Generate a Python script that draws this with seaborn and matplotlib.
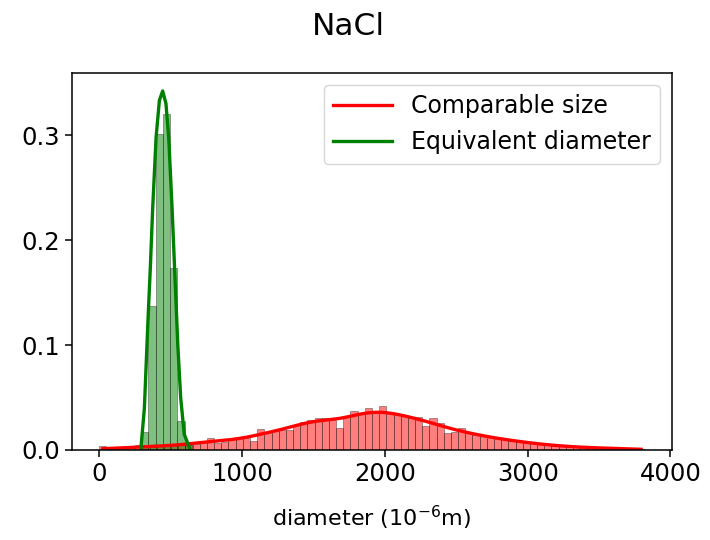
import numpy as np
import pandas as pd
import matplotlib
matplotlib.use("Agg")
import matplotlib.pyplot as plt
import seaborn as sns

# histogram bin heights (probability per bin)
comparable_lo, comparable_hi = 0, 3820
comparable_heights = [
    0.004, 0.001, 0.001, 0.001, 0.002, 0.005, 0.003, 0.003, 0.004, 0.004,
    0.004, 0.005, 0.005, 0.006, 0.008, 0.011, 0.007, 0.008, 0.010, 0.011,
    0.011, 0.009, 0.020, 0.016, 0.018, 0.019, 0.019, 0.024, 0.027, 0.029,
    0.030, 0.030, 0.029, 0.021, 0.031, 0.037, 0.034, 0.040, 0.035, 0.0415,
    0.035, 0.034, 0.033, 0.031, 0.031, 0.023, 0.030, 0.026, 0.016, 0.017,
    0.021, 0.016, 0.014, 0.013, 0.012, 0.011, 0.010, 0.009, 0.008, 0.007,
    0.006, 0.0055, 0.005, 0.004, 0.0037, 0.003, 0.0028, 0.0025, 0.002, 0.002,
    0.0018, 0.0015, 0.0013, 0.0012, 0.001, 0.0008,
]

equivalent_lo, equivalent_hi = 292, 649
equivalent_heights = [0.017, 0.137, 0.301, 0.320, 0.173, 0.028, 0.005]

# smoothed density of the equivalent diameter
equivalent_kde_x = [292, 316, 340, 358, 374, 398, 421, 444, 467, 487,
                    510, 530, 550, 570, 595, 632]
equivalent_kde_y = [0.002, 0.040, 0.120, 0.175, 0.230, 0.298, 0.333, 0.342,
                    0.330, 0.296, 0.230, 0.165, 0.100, 0.050, 0.015, 0.002]

labels = ["Comparable size", "Equivalent diameter"]


def bin_frame(lo, hi, heights):
    n = len(heights)
    width = (hi - lo) / n
    centers = lo + width * (np.arange(n) + 0.5)
    return pd.DataFrame({"diameter": centers, "w": heights}), width


fig = plt.figure(figsize=(7.1, 5.4), dpi=100)
ax = fig.add_axes([0.1014, 0.1667, 0.8451, 0.6981])
edge = (0, 0, 0, 0.45)

df, bw = bin_frame(comparable_lo, comparable_hi, comparable_heights)
sns.histplot(data=df, x="diameter", weights="w", binwidth=bw,
             binrange=(comparable_lo, comparable_hi), stat="count",
             kde=True, color="red", edgecolor=edge, ax=ax,
             kde_kws={"bw_adjust": 0.4},
             line_kws={"label": labels[0], "linewidth": 2.4})

df, bw = bin_frame(equivalent_lo, equivalent_hi, equivalent_heights)
sns.histplot(data=df, x="diameter", weights="w", binwidth=bw,
             binrange=(equivalent_lo, equivalent_hi), stat="count",
             color="green", alpha=0.5, edgecolor=edge, ax=ax)
sns.lineplot(x=equivalent_kde_x, y=equivalent_kde_y, color="green",
             linewidth=2.4, label=labels[1], ax=ax)

ax.set_ylabel("")
ax.set_xlabel(r"diameter ($10^{-6}$m)", fontsize=16, labelpad=13)
ax.set_xticks([0, 1000, 2000, 3000, 4000])
ax.set_yticks([0.0, 0.1, 0.2, 0.3])
ax.tick_params(labelsize=17.5, width=1.1, length=5)
for s in ax.spines.values():
    s.set_linewidth(1.1)
ax.legend(loc="upper right", fontsize=17, handlelength=2.5)
fig.suptitle("NaCl", fontsize=22.5, x=0.49, y=0.978)

fig.savefig("out.png", dpi=100)
